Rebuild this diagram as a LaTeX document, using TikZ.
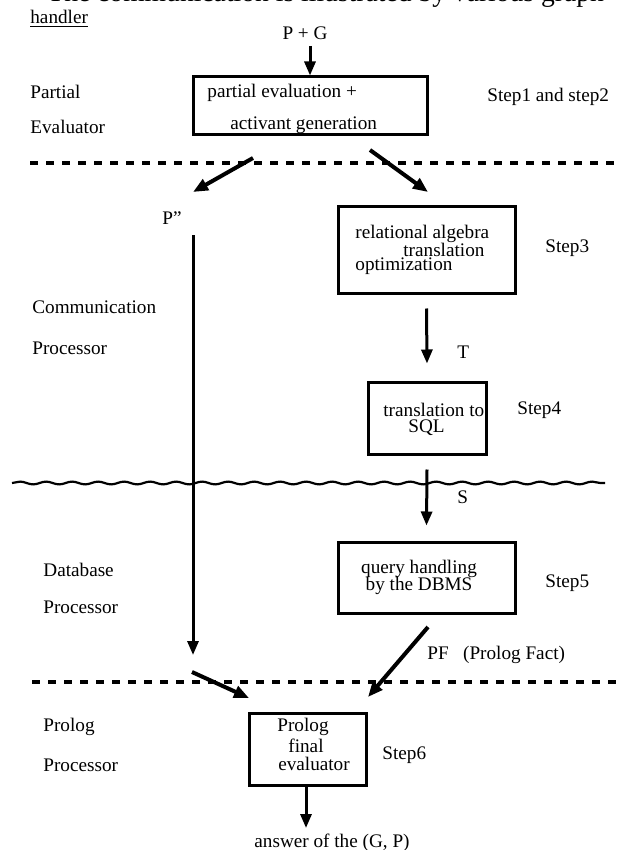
\documentclass[tikz,border=0pt]{standalone}
\usepackage{fontspec}
\setmainfont{Liberation Serif}
\usetikzlibrary{arrows.meta,decorations.pathmorphing}
\begin{document}
\begin{tikzpicture}[x=0.5pt,y=-0.5pt,
  font=\fontsize{9.6}{11}\selectfont,
  lbl/.style={inner sep=0pt,anchor=west},
  ctr/.style={inner sep=0pt},
  box/.style={draw,line width=1.5pt,inner sep=0pt},
  arr/.style={line width=1.5pt,-{Triangle[width=5.5pt,length=7pt]}},
  darr/.style={line width=2pt,-{Triangle[width=6pt,length=7.5pt]}},
  sep/.style={line width=1.6pt,dash pattern=on 4pt off 4pt},
  wavy/.style={line width=1.1pt,decorate,decoration={snake,amplitude=0.7pt,segment length=13pt}}]
\path[use as bounding box] (0,0) rectangle (620,850);
\clip (0,0) rectangle (620,850);

% cut-off line at top
\node[anchor=base west,inner sep=0pt,font=\fontsize{13.8}{15}\selectfont] (topline) at (47,1.5) {The communication is illustrated by various graph};
\node[lbl] (handler) at (30,19) {\underline{handler}};

% separators
\draw[sep] (30,163) -- (620,163);
\draw[wavy] (12,483) -- (605,483);
\draw[sep] (32,682) -- (620,682);

% left labels
\node[lbl] (l1a) at (30,92) {Partial};
\node[lbl] (l1b) at (30,127) {Evaluator};
\node[lbl] (l2a) at (32,307) {Communication};
\node[lbl] (l2b) at (32,348) {Processor};
\node[lbl] (l3a) at (43,570) {Database};
\node[lbl] (l3b) at (43,607) {Processor};
\node[lbl] (l4a) at (43,727) {Prolog};
\node[lbl] (l4b) at (43,765) {Processor};

% step labels
\node[lbl] (s12) at (487,97) {Step1 and step2};
\node[lbl] (s3) at (545,248) {Step3};
\node[lbl] (s4) at (517,410) {Step4};
\node[lbl] (s5) at (545,583) {Step5};
\node[lbl] (s6) at (382,755) {Step6};

% boxes
\node[box,minimum width=117pt,minimum height=29pt] (b1) at (310,106) {};
\node[lbl] (b1a) at (207,93) {partial evaluation +};
\node[lbl] (b1b) at (230,125) {activant generation};

\node[box,minimum width=88.5pt,minimum height=43pt] (b2) at (426.5,250) {};
\node[lbl] (b2a) at (355,234) {relational algebra};
\node[lbl] (b2b) at (403,250) {translation};
\node[lbl] (b2c) at (355,266) {optimization};

\node[box,minimum width=59pt,minimum height=36pt] (b3) at (427,418) {};
\node[lbl] (b3a) at (383,410) {translation to};
\node[lbl] (b3b) at (408,428) {SQL};

\node[box,minimum width=88.5pt,minimum height=35.5pt] (b4) at (426.5,577.5) {};
\node[ctr] (b4a) at (419,569) {query handling};
\node[ctr] (b4b) at (419,586) {by the DBMS};

\node[box,minimum width=58.5pt,minimum height=36pt] (b5) at (307.5,749) {};
\node[ctr] (b5a) at (303,727) {Prolog};
\node[ctr] (b5b) at (306,746) {final};
\node[ctr] (b5c) at (314,764) {evaluator};

% other text
\node[ctr] (pg) at (305,33) {P + G};
\node[ctr] (pdd) at (172,218) {P"};
\node[lbl] (t) at (457,352) {T};
\node[lbl] (s) at (457,497) {S};
\node[lbl] (pf) at (427,655) {PF\hspace{0.5em} (Prolog Fact)};
\node[ctr] (ans) at (332,843) {answer of the (G, P)};

% free ends
\coordinate (d1s) at (253,158);
\coordinate (d1e) at (193,192);
\coordinate (d2s) at (370,150);
\coordinate (d2e) at (428,192);
\coordinate (vs) at (193,235);
\coordinate (ve) at (193,655);
\coordinate (d3s) at (192,672);
\coordinate (d3e) at (249,698);
\coordinate (d4s) at (428,627);
\coordinate (d4e) at (368,697);
\coordinate (ae) at (306,828);

% connectors
\draw[arr] ([yshift=-3pt]pg.south -| b1.north) -- (b1.north);
\draw[darr] (d1s) -- (d1e);
\draw[darr] (d2s) -- (d2e);
\draw[arr] (vs) -- (ve);
\draw[arr] ([yshift=-7pt]b2.south) -- ([yshift=8.5pt]b3.north);
\draw[arr] ([yshift=-7pt]b3.south) -- ([yshift=7.5pt]b4.north);
\draw[darr] (d4s) -- (d4e);
\draw[darr] (d3s) -- (d3e);
\draw[arr] (b5.south -| ae) -- (ae);
\end{tikzpicture}
\end{document}
